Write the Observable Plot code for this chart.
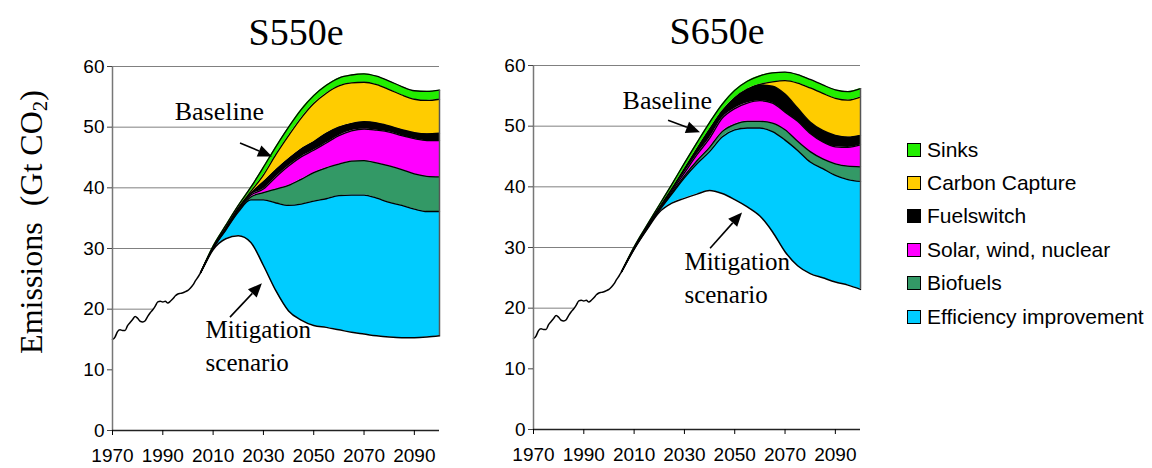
<!DOCTYPE html>
<html><head><meta charset="utf-8">
<script src="https://cdn.jsdelivr.net/npm/d3@7"></script>
<script src="https://cdn.jsdelivr.net/npm/@observablehq/plot@0.6"></script>
<style>
body{margin:0;background:#fff;}
#wrap{position:relative;width:1152px;height:468px;overflow:hidden;background:#fff;}
.panel{position:absolute;top:0;}
#ylab{position:absolute;left:31px;top:222px;transform:translate(-50%,-50%) rotate(-90deg);font-family:"Liberation Serif","Times New Roman",serif;font-size:32px;white-space:nowrap;color:#000;}
#ylab sub{font-size:0.65em;vertical-align:-0.25em;line-height:0;}
#legend{position:absolute;left:907px;top:133px;font-family:"Liberation Sans",Arial,sans-serif;font-size:21px;color:#000;}
.item{display:flex;align-items:center;height:33.4px;}
.sw{width:12px;height:12px;border:1px solid #000;margin-right:6px;flex:none;}
</style></head><body>
<div id="wrap">
  <div id="ylab">Emissions&nbsp;&nbsp;(Gt CO<sub>2</sub>)</div>
  <div id="left" class="panel" style="left:40px"></div>
  <div id="right" class="panel" style="left:460px"></div>
  <div id="legend"></div>
</div>
<script>
// ---------- data ----------
const panelTitles = ["S550e", "S650e"];
const xTicks = [1970, 1990, 2010, 2030, 2050, 2070, 2090];
const yTicks = [0, 10, 20, 30, 40, 50, 60];

const histYears = d3.range(1970, 2005);
const histValues = [15.0, 15.4, 16.3, 16.6, 16.5, 16.5, 17.3, 17.8, 18.3, 18.8,
                    18.5, 18.0, 17.9, 18.1, 18.8, 19.4, 19.9, 20.5, 21.2, 21.3,
                    21.2, 21.3, 21.0, 21.3, 21.7, 22.2, 22.5, 22.6, 22.7, 22.9,
                    23.1, 23.5, 24.0, 24.7, 25.3];

const scenYears = [2005, 2010, 2015, 2020, 2025, 2030, 2035, 2040, 2045, 2050,
                   2055, 2060, 2065, 2070, 2075, 2080, 2085, 2090, 2095, 2100];

const layerNames  = ["Efficiency improvement", "Biofuels", "Solar, wind, nuclear", "Fuelswitch", "Carbon Capture", "Sinks"];
const layerColors = ["#00ccff", "#339966", "#ff00ff", "#000000", "#ffcc00", "#22ee00"];

// S550e: mitigation line and top of each wedge (last = baseline)
const s550Mitigation = [26.0, 29.8, 31.6, 32.1, 31.0, 27.2, 23.0, 19.7, 18.2, 17.3, 17.0, 16.6, 16.2, 15.9, 15.6, 15.4, 15.3, 15.3, 15.4, 15.6];
const s550Efficiency = [26.0, 30.0, 33.0, 36.0, 38.0, 38.0, 37.5, 37.1, 37.3, 37.8, 38.2, 38.7, 38.8, 38.8, 38.3, 37.6, 37.1, 36.5, 36.1, 36.1];
const s550Biofuels   = [26.0, 30.05, 33.1, 36.2, 38.5, 39.2, 39.8, 40.4, 41.4, 42.5, 43.3, 43.9, 44.4, 44.5, 44.1, 43.6, 43.0, 42.3, 41.9, 41.8];
const s550Solar      = [26.0, 30.1, 33.2, 36.4, 38.8, 39.8, 41.8, 43.6, 45.1, 46.2, 47.4, 48.6, 49.4, 49.7, 49.5, 49.2, 48.6, 48.1, 47.8, 47.8];
const s550Fuel       = [26.0, 30.15, 33.3, 36.6, 39.1, 41.0, 43.0, 44.8, 46.4, 47.6, 49.0, 50.0, 50.6, 50.9, 50.7, 50.2, 49.6, 49.1, 48.9, 49.0];
const s550Capture    = [26.0, 30.2, 33.4, 36.7, 39.4, 42.1, 45.5, 48.6, 51.5, 53.9, 55.6, 56.8, 57.3, 57.4, 57.0, 56.2, 55.3, 54.6, 54.4, 54.6];
const s550Baseline   = [26.0, 30.4, 33.8, 37.1, 40.1, 43.4, 46.8, 50.0, 52.9, 55.2, 56.9, 58.1, 58.6, 58.8, 58.4, 57.6, 56.7, 56.0, 55.9, 56.1];

// S650e
const s650Mitigation = [26.0, 29.7, 32.9, 35.8, 37.3, 38.1, 38.8, 39.4, 38.9, 37.9, 36.7, 35.2, 32.6, 29.3, 27.0, 25.7, 25.0, 24.3, 23.8, 23.1];
const s650Efficiency = [26.0, 29.75, 33.0, 36.1, 38.8, 41.5, 43.8, 45.8, 48.2, 49.4, 49.7, 49.7, 49.1, 47.7, 46.0, 44.1, 43.0, 41.9, 41.2, 40.9];
const s650Biofuels   = [26.0, 29.8, 33.1, 36.2, 39.0, 41.8, 44.3, 46.5, 49.1, 50.3, 50.8, 50.8, 50.5, 49.4, 47.5, 45.8, 44.6, 43.8, 43.4, 43.3];
const s650Solar      = [26.0, 29.85, 33.2, 36.3, 39.3, 42.3, 45.3, 48.0, 51.3, 52.9, 53.8, 54.2, 53.8, 52.3, 50.8, 48.8, 47.4, 46.6, 46.5, 46.9];
const s650Fuel       = [26.0, 29.9, 33.3, 36.5, 39.6, 42.9, 46.2, 49.4, 52.4, 54.6, 56.0, 56.8, 56.6, 55.3, 53.0, 50.7, 49.3, 48.5, 48.2, 48.5];
const s650Capture    = [26.0, 29.95, 33.35, 36.55, 39.7, 43.0, 46.3, 49.5, 52.5, 54.7, 56.1, 56.9, 57.3, 57.5, 57.1, 56.3, 55.4, 54.6, 54.3, 54.8];
const s650Baseline   = [26.0, 30.1, 33.6, 37.0, 40.4, 43.9, 47.3, 50.6, 53.6, 55.9, 57.4, 58.3, 58.8, 58.9, 58.5, 57.7, 56.8, 56.0, 55.7, 56.2];

// annotations (in data units: year, Gt CO2)
const s550Labels = [
  {x: 1994.7, y: 51.1, text: "Baseline", size: 26},
  {x: 2007.0, y: 9.8, text: "Mitigation\nscenario", size: 25}
];
const s550Arrows = [
  {x1: 2020.9, y1: 47.3, x2: 2033.6, y2: 45.1},
  {x1: 2016.9, y1: 18.6, x2: 2029.6, y2: 24.2}
];
const s650Labels = [
  {x: 2005.4, y: 52.9, text: "Baseline", size: 26},
  {x: 2030.0, y: 20.9, text: "Mitigation\nscenario", size: 25}
];
const s650Arrows = [
  {x1: 2023.7, y1: 50.9, x2: 2036.4, y2: 48.9},
  {x1: 2040.4, y1: 29.8, x2: 2053.1, y2: 35.7}
];

// ---------- drawing ----------
const curve = "monotone-x";

function arrowMark(arrows) {
  return (index, scales) => {
    const g = d3.create("svg:g");
    for (const a of arrows) {
      const x1 = scales.x(a.x1), y1 = scales.y(a.y1), x2 = scales.x(a.x2), y2 = scales.y(a.y2);
      const ang = Math.atan2(y2 - y1, x2 - x1);
      const L = 14, W = 6;
      const bx = x2 - L * Math.cos(ang), by = y2 - L * Math.sin(ang);
      g.append("line").attr("x1", x1).attr("y1", y1).attr("x2", bx).attr("y2", by)
        .attr("stroke", "#000").attr("stroke-width", 1.6);
      g.append("polygon")
        .attr("points", `${x2},${y2} ${bx - W * Math.sin(ang)},${by + W * Math.cos(ang)} ${bx + W * Math.sin(ang)},${by - W * Math.cos(ang)}`)
        .attr("fill", "#000");
    }
    return g.node();
  };
}

function panel(title, mitigation, tops, labels, arrows, m) {
  const bounds = [mitigation, ...tops];
  const mitData = histYears.map((yr, i) => ({year: yr, v: histValues[i]}))
    .concat(scenYears.map((yr, i) => ({year: yr, v: mitigation[i]})));
  const layerMarks = layerNames.map((name, k) =>
    Plot.areaY(scenYears.map((yr, i) => ({year: yr, lo: bounds[k][i], hi: bounds[k + 1][i]})),
      {x: "year", y1: "lo", y2: "hi", fill: layerColors[k], curve})
  );
  const lineMarks = tops.map(arr =>
    Plot.lineY(scenYears.map((yr, i) => ({year: yr, v: arr[i]})),
      {x: "year", y: "v", stroke: "#000", strokeWidth: 1.3, curve})
  );
  const last = scenYears.length - 1;
  return Plot.plot({
    width: 420, height: 468,
    marginLeft: m.left, marginRight: m.right, marginTop: m.top, marginBottom: m.bottom,
    style: {fontFamily: "'Liberation Sans', Arial, sans-serif", fontSize: "19px", color: "#000", background: "transparent", overflow: "visible"},
    x: {domain: [1970, 2100]},
    y: {domain: [0, 60]},
    marks: [
      Plot.ruleY(yTicks.filter(d => d > 0), {stroke: "#808080", strokeWidth: 1}),
      Plot.areaY(mitData, {x: "year", y1: 0, y2: "v", fill: "#fff", curve}),
      ...layerMarks,
      ...lineMarks,
      Plot.lineY(mitData, {x: "year", y: "v", stroke: "#000", strokeWidth: 1.5, curve}),
      Plot.ruleX([2100], {y1: mitigation[last], y2: tops[tops.length - 1][last], stroke: "#555", strokeWidth: 1.5}),
      Plot.ruleX([1970], {y1: 0, y2: 60, stroke: "#777", strokeWidth: 1.5}),
      Plot.ruleY([0], {stroke: "#222", strokeWidth: 1.5}),
      Plot.axisY(yTicks, {tickSize: 5, tickPadding: 3, fontSize: 19, stroke: "#444", label: null}),
      Plot.axisX(xTicks, {tickSize: 5, tickPadding: 13, fontSize: 19, tickFormat: d => String(d), label: null}),
      Plot.text(labels, {x: "x", y: "y", text: "text", textAnchor: "start", lineAnchor: "bottom",
        lineHeight: 1.32, fontSize: d => d.size, fontFamily: "'Liberation Serif', 'Times New Roman', serif", fill: "#000"}),
      arrowMark(arrows),
      Plot.text([title], {frameAnchor: "top", dx: 20, dy: -22, lineAnchor: "bottom", text: d => d,
        fontSize: 38, fontFamily: "'Liberation Serif', 'Times New Roman', serif", fill: "#000"})
    ]
  });
}

document.getElementById("left").append(panel(panelTitles[0], s550Mitigation,
  [s550Efficiency, s550Biofuels, s550Solar, s550Fuel, s550Capture, s550Baseline],
  s550Labels, s550Arrows, {left: 72, right: 21, top: 66, bottom: 38}));
document.getElementById("right").append(panel(panelTitles[1], s650Mitigation,
  [s650Efficiency, s650Biofuels, s650Solar, s650Fuel, s650Capture, s650Baseline],
  s650Labels, s650Arrows, {left: 73, right: 20, top: 65, bottom: 39}));

// legend (reverse stacking order)
const legend = d3.select("#legend");
layerNames.slice().reverse().forEach((name, i) => {
  const color = layerColors[layerNames.length - 1 - i];
  const item = legend.append("div").attr("class", "item");
  item.append("div").attr("class", "sw").style("background", color);
  item.append("span").text(name);
});
</script>
</body></html>
